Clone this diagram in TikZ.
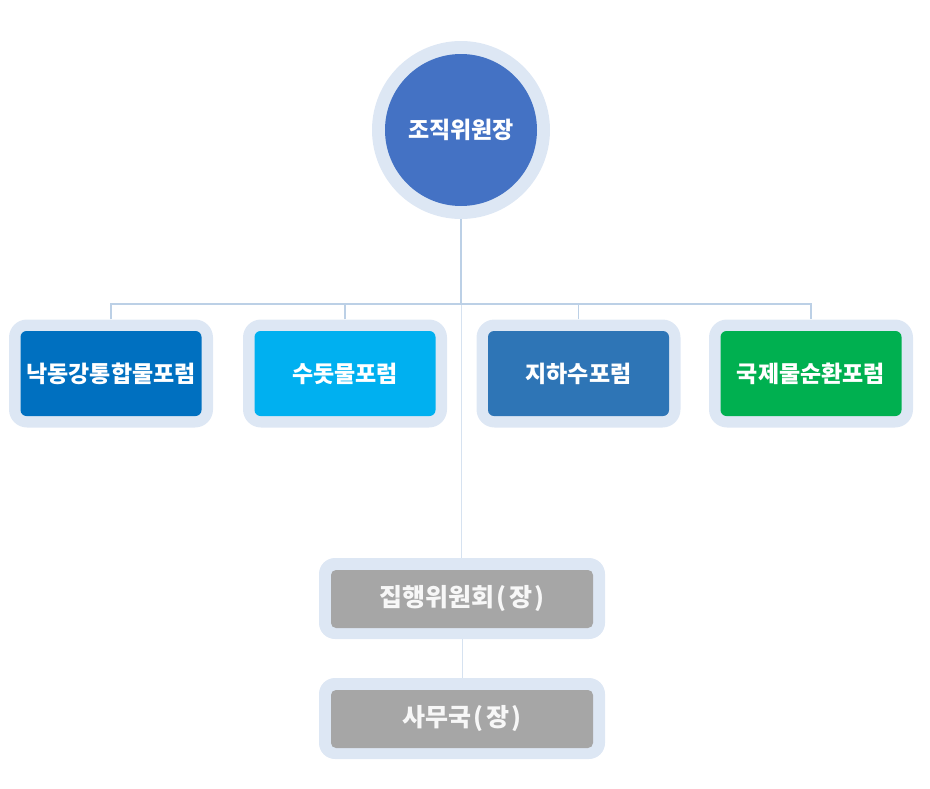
\documentclass[tikz,border=0pt]{standalone}
\usepackage{fontspec}
\newfontfamily\kr{Noto Sans CJK KR}
\definecolor{ring}{HTML}{DDE7F4}
\definecolor{topc}{HTML}{4472C4}
\definecolor{c1}{HTML}{0070C0}
\definecolor{c2}{HTML}{00B0F0}
\definecolor{c3}{HTML}{2E75B6}
\definecolor{c4}{HTML}{00B050}
\definecolor{gr}{HTML}{A6A6A6}
\definecolor{ln}{HTML}{BCD0E6}
\definecolor{lnlight}{HTML}{D6E2F0}
\newcommand{\lp}{\hspace{2pt}(\hspace{2.5pt}}
\newcommand{\rp}{\hspace{2.5pt})\hspace{2pt}}
\tikzset{
  outerbox/.style={fill=ring, rounded corners=18pt, minimum width=204pt, minimum height=108pt, inner sep=0pt},
  innerbox/.style={rounded corners=6pt, minimum width=181pt, minimum height=85pt, inner sep=0pt, text=white, font=\kr\bfseries\fontsize{23}{27}\selectfont},
  outerlow/.style={fill=ring, rounded corners=16pt, minimum width=286pt, minimum height=81pt, inner sep=0pt},
  innerlow/.style={fill=gr, rounded corners=5pt, minimum width=262pt, minimum height=58pt, inner sep=0pt, text=white!94!gray, font=\kr\bfseries\fontsize{25}{29}\selectfont},
  conn/.style={draw=ln, line width=1.8pt},
  connlight/.style={draw=lnlight, line width=1pt}
}
\begin{document}
\begin{tikzpicture}[x=1pt,y=-1pt]
\useasboundingbox (0,0) rectangle (930,788);
% top circle
\node[circle, fill=ring, minimum size=178pt, inner sep=0pt] (topo) at (461,130) {};
\node[circle, fill=topc, minimum size=152pt, inner sep=0pt, text=white, font=\kr\bfseries\fontsize{23}{27}\selectfont] (top) at (461,130) {조직위원장};
% forum boxes
\node[outerbox] (o1) at (111,373.5) {};
\node[innerbox, fill=c1] (b1) at (111,373.5) {낙동강통합물포럼};
\node[outerbox] (o2) at (345,373.5) {};
\node[innerbox, fill=c2] (b2) at (345,373.5) {수돗물포럼};
\node[outerbox] (o3) at (578.5,373.5) {};
\node[innerbox, fill=c3] (b3) at (578.5,373.5) {지하수포럼};
\node[outerbox] (o4) at (811,373.5) {};
\node[innerbox, fill=c4] (b4) at (811,373.5) {국제물순환포럼};
% lower boxes
\node[outerlow] (o5) at (462,598.5) {};
\node[innerlow] (b5) at (462,599) {집행위원회\lp 장\rp};
\node[outerlow] (o6) at (462,718.5) {};
\node[innerlow] (b6) at (462,719) {사무국\lp 장\rp};
% connectors
\coordinate (j) at (461,304);
\draw[connlight] (j) -- (o5.north -| j);
\draw[connlight] (o5.south) -- (o6.north);
\draw[conn] (topo.south) -- (j);
\draw[conn] (o1.north) |- (j) -| (o4.north);
\draw[conn] (o2.north) -- (o2.north |- j);
\draw[conn] (o3.north) -- (o3.north |- j);
\end{tikzpicture}
\end{document}
